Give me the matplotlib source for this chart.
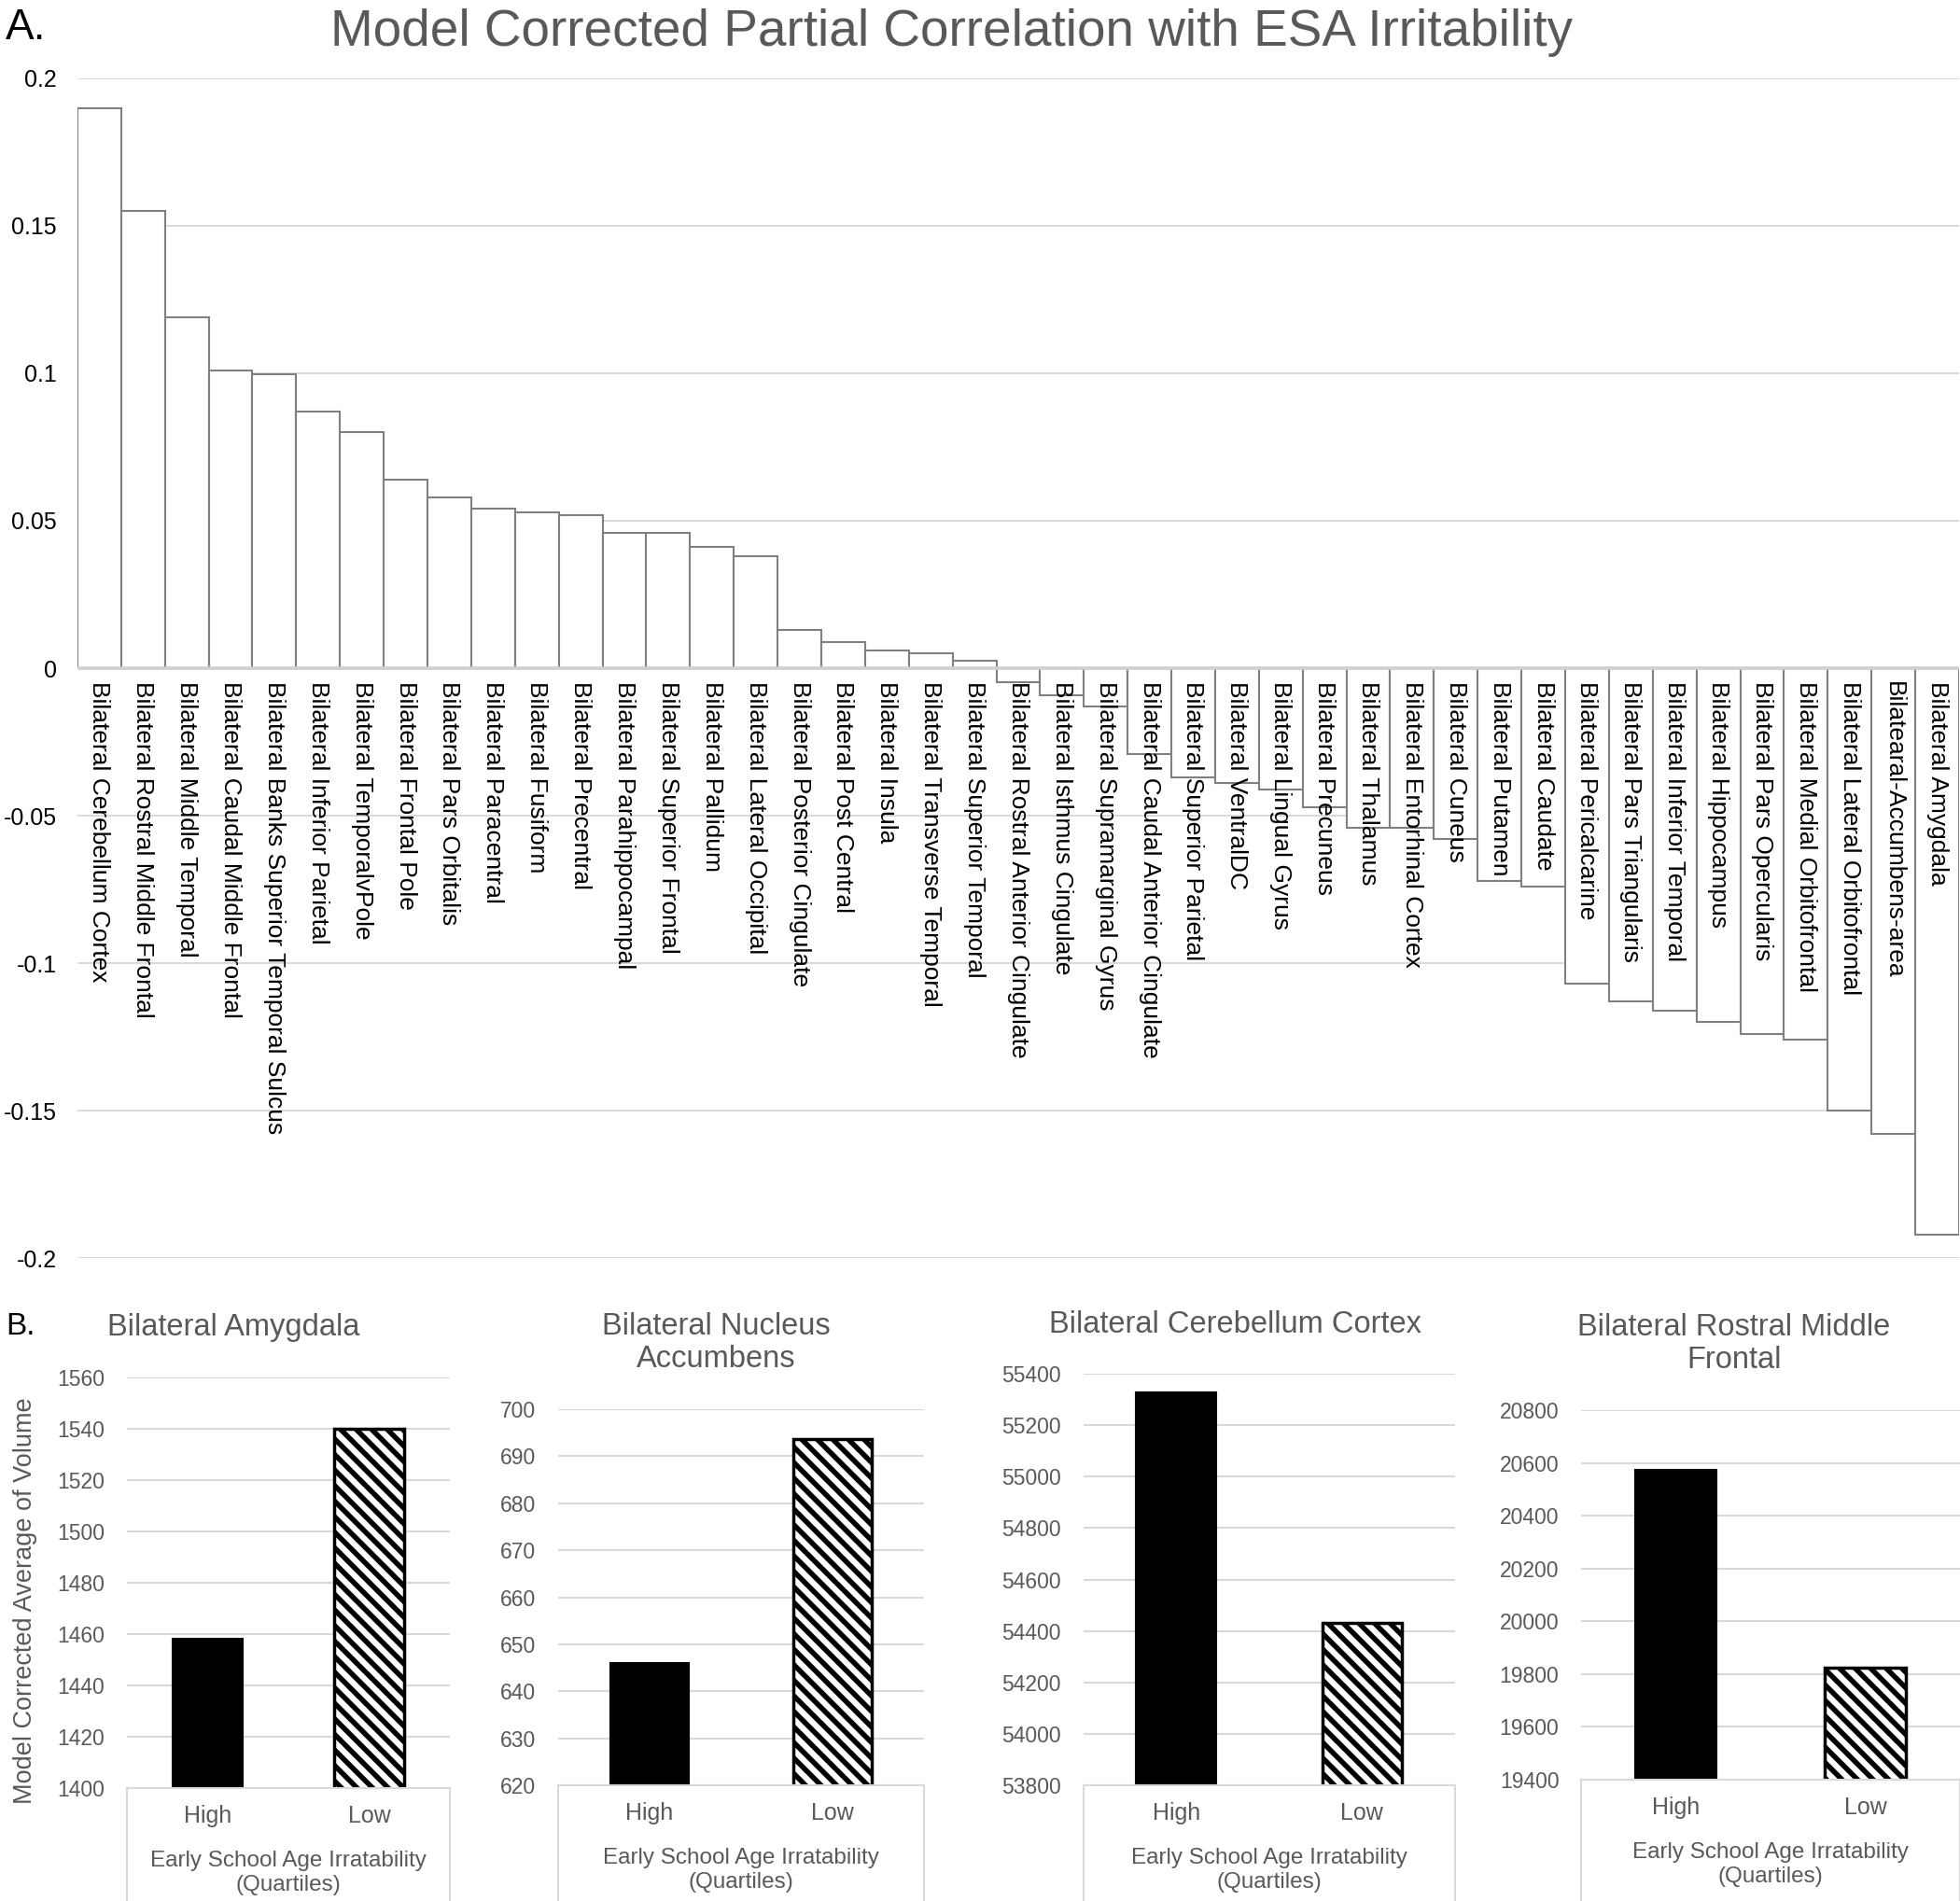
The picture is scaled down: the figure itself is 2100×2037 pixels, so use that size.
import numpy as np
import matplotlib
matplotlib.use("Agg")
import matplotlib.pyplot as plt
from matplotlib import transforms
from matplotlib.ticker import FormatStrFormatter

# -------------------------------
# Fonts / style
# -------------------------------
plt.rcParams['font.family'] = ['Liberation Sans', 'DejaVu Sans']
plt.rcParams['hatch.linewidth'] = 4.0

# -------------------------------
# Panel A data: partial correlations with ESA irritability
# -------------------------------
regions = [
    "Bilateral Cerebellum Cortex", "Bilateral Rostral Middle Frontal",
    "Bilateral Middle Temporal", "Bilateral Caudal Middle Frontal",
    "Bilateral Banks Superior Temporal Sulcus", "Bilateral Inferior Parietal",
    "Bilateral TemporalvPole", "Bilateral Frontal Pole",
    "Bilateral Pars Orbitalis", "Bilateral Paracentral",
    "Bilateral Fusiform", "Bilateral Precentral",
    "Bilateral Parahippocampal", "Bilateral Superior Frontal",
    "Bilateral Pallidum", "Bilateral Lateral Occipital",
    "Bilateral Posterior Cingulate", "Bilateral Post Central",
    "Bilateral Insula", "Bilateral Transverse Temporal",
    "Bilateral Superior Temporal", "Bilateral Rostral Anterior Cingulate",
    "Bilateral Isthmus Cingulate", "Bilateral Supramarginal Gyrus",
    "Bilateral Caudal Anterior Cingulate", "Bilateral Superior Parietal",
    "Bilateral VentralDC", "Bilateral Lingual Gyrus",
    "Bilateral Precuneus", "Bilateral Thalamus",
    "Bilateral Entorhinal Cortex", "Bilateral Cuneus",
    "Bilateral Putamen", "Bilateral Caudate",
    "Bilateral Pericalcarine", "Bilateral Pars Triangularis",
    "Bilateral Inferior Temporal", "Bilateral Hippocampus",
    "Bilateral Pars Opercularis", "Bilateral Medial Orbitofrontal",
    "Bilateral Lateral Orbitofrontal", "Bilatearal-Accumbens-area",
    "Bilateral Amygdala",
]
partial_r = [
    0.190, 0.155, 0.119, 0.101, 0.0998, 0.087, 0.080, 0.064, 0.058, 0.054,
    0.053, 0.052, 0.046, 0.046, 0.041, 0.038, 0.013, 0.009, 0.006, 0.005,
    0.0025, -0.0046, -0.0092, -0.013, -0.029, -0.037, -0.039, -0.041, -0.047,
    -0.054, -0.054, -0.058, -0.072, -0.074, -0.107, -0.113, -0.116, -0.120,
    -0.124, -0.126, -0.150, -0.158, -0.192,
]

# -------------------------------
# Panel B data: model corrected average volume
# -------------------------------
groups = ["High", "Low"]
panel_titles = [
    "Bilateral Amygdala",
    "Bilateral Nucleus\nAccumbens",
    "Bilateral Cerebellum Cortex",
    "Bilateral Rostral Middle\nFrontal",
]
amygdala_vol = [1458.2, 1539.9]
accumbens_vol = [646.0, 693.7]
cerebellum_vol = [55326, 54430]
rostral_mid_frontal_vol = [20573, 19826]
panel_values = [amygdala_vol, accumbens_vol, cerebellum_vol, rostral_mid_frontal_vol]
x_label = "Early School Age Irratability\n(Quartiles)"
y_label = "Model Corrected Average of Volume"

# axis ranges (min, max, step) as in the original
y_ranges = [(1400, 1560, 20), (620, 700, 10), (53800, 55400, 200), (19400, 20800, 200)]

GRID = '#d9d9d9'
GRAYTXT = '#595959'

fig = plt.figure(figsize=(21, 20.37), dpi=100)

# -------------------------------
# Panel A
# -------------------------------
axA = fig.add_axes([0.0395, 0.3382, 0.9600, 0.6206])
xs = np.arange(len(regions))
axA.bar(xs, partial_r, width=1.0, color='white', edgecolor='#808080',
        linewidth=1.5, zorder=2)
axA.axhline(0, color='#cfcfcf', lw=2.6, zorder=3)
axA.set_xlim(-0.5, len(regions) - 0.5)
axA.set_ylim(-0.2, 0.2)
yt = np.arange(-0.2, 0.2001, 0.05)
axA.set_yticks(yt)
axA.set_yticklabels([f"{round(v, 2) + 0:g}" for v in yt], fontsize=18, color='black')
axA.set_xticks([])
axA.tick_params(axis='y', length=0, pad=16)
axA.yaxis.grid(True, color=GRID, lw=1.4)
axA.set_axisbelow(True)
for s in axA.spines.values():
    s.set_visible(False)

for x, name in zip(xs, regions):
    axA.annotate(name, (x, 0), xytext=(0, -10), textcoords='offset points',
                 rotation=270, ha='center', va='top', fontsize=19,
                 color='black', zorder=4)

fig.text(0.4857, 0.9761, "Model Corrected Partial Correlation with ESA Irritability",
         ha='center', va='baseline', fontsize=39.5, color=GRAYTXT)
fig.text(0.003, 0.9796, "A.", ha='left', va='baseline', fontsize=33, color='black')
fig.text(0.003, 0.2980, "B.", ha='left', va='baseline', fontsize=24, color='black')

# -------------------------------
# Panel B
# -------------------------------
panel_boxes = [
    [0.06476, 0.05940, 0.16476, 0.21625],
    [0.28476, 0.06087, 0.18667, 0.19784],
    [0.55262, 0.06087, 0.18976, 0.21650],
    [0.80667, 0.06382, 0.19333, 0.19440],
]
title_pos = [(0.1190, 0.3019), (0.3652, 0.2936), (0.6300, 0.3029), (0.8848, 0.2931)]

for i, (box, vals, title, (lo, hi, step)) in enumerate(
        zip(panel_boxes, panel_values, panel_titles, y_ranges)):
    ax = fig.add_axes(box)
    gx = np.arange(len(groups))
    ax.bar(gx[0], vals[0], width=0.43, color='black', edgecolor='black',
           linewidth=1.5, zorder=2)
    ax.bar(gx[1], vals[1], width=0.43, color='white', edgecolor='black',
           hatch='\\\\', linewidth=2.5, zorder=2)
    ax.set_xlim(-0.5, 1.5)
    ax.set_ylim(lo, hi)
    ax.set_yticks(np.arange(lo, hi + step / 2, step))
    ax.yaxis.set_major_formatter(FormatStrFormatter('%d'))
    ax.tick_params(axis='y', length=0, pad=17, labelsize=16.5, labelcolor=GRAYTXT)
    ax.set_xticks(gx)
    ax.set_xticklabels(groups)
    ax.tick_params(axis='x', length=0, pad=13, labelsize=18, labelcolor=GRAYTXT)
    ax.yaxis.grid(True, color=GRID, lw=1.5)
    ax.set_axisbelow(True)
    for s in ('top', 'left', 'right'):
        ax.spines[s].set_visible(False)
    ax.spines['bottom'].set_color(GRID)
    ax.spines['bottom'].set_linewidth(1.5)
    ax.set_xlabel(x_label, fontsize=17.5, color=GRAYTXT, labelpad=18, linespacing=1.25)

    # category box below the axis (Excel style)
    trans = transforms.blended_transform_factory(ax.transAxes, fig.transFigure)
    for xa in (0, 1):
        ax.plot([xa, xa], [0, box[1]], transform=trans, color=GRID, lw=1.5,
                clip_on=False)

    fig.text(title_pos[i][0], title_pos[i][1], title, ha='center', va='center',
             fontsize=23.5, color=GRAYTXT, linespacing=1.15)

    if i == 0:
        ax.set_ylabel(y_label, fontsize=19.5, color=GRAYTXT)
        ax.yaxis.set_label_coords(-0.277, 0.456)

fig.savefig("out.png", dpi=100)
